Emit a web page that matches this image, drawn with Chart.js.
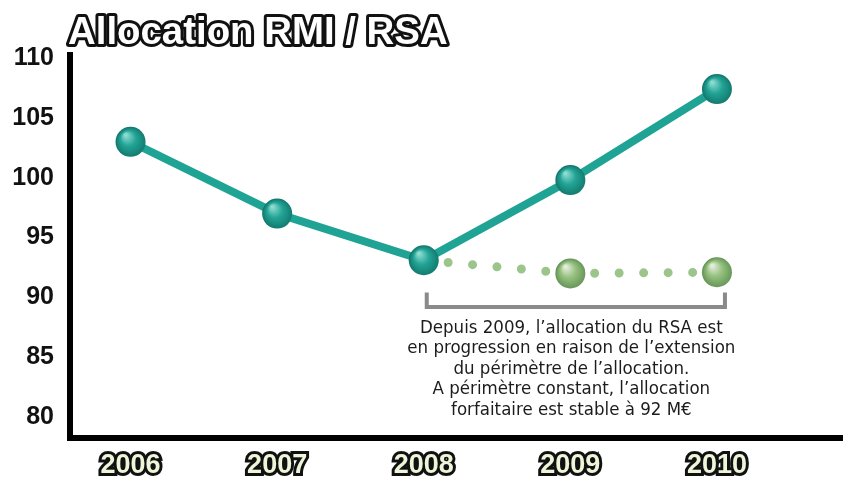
<!DOCTYPE html>
<html>
<head>
<meta charset="utf-8">
<script src="https://cdn.jsdelivr.net/npm/chart.js@4"></script>
<style>
html,body{margin:0;padding:0;background:#fff;}
#wrap{width:857px;height:490px;position:relative;}
</style>
</head>
<body>
<div id="wrap"><canvas id="myChart"></canvas></div>
<script>
// data
var titleText = "Allocation RMI / RSA";
var years = [2006, 2007, 2008, 2009, 2010];
var rsaValues = [103.0, 97.0, 93.1, 99.8, 107.4];
var constantValues = [null, null, 93.1, 92.0, 92.1];
var yTicks = [80, 85, 90, 95, 100, 105, 110];
var noteLines = [
  "Depuis 2009, l\u2019allocation du RSA est",
  "en progression en raison de l\u2019extension",
  "du p\u00e9rim\u00e8tre de l\u2019allocation.",
  "A p\u00e9rim\u00e8tre constant, l\u2019allocation",
  "forfaitaire est stable \u00e0 92 M\u20ac"
];

var heavy = '"Liberation Sans", Arial, sans-serif';
var narrow = '"DejaVu Sans Condensed", "Liberation Sans", sans-serif';

function points(vals) {
  var out = [];
  vals.forEach(function(v, i){ if (v !== null) out.push({x: years[i], y: v}); });
  return out;
}

// shaded "ball" markers
function ball(c, light, mid, dark) {
  var chart = c.chart, p = c.raw;
  if (!p || !chart.scales.x || !chart.scales.y) return mid;
  var x = chart.scales.x.getPixelForValue(p.x), y = chart.scales.y.getPixelForValue(p.y);
  if (!isFinite(x) || !isFinite(y)) return mid;
  var g = chart.ctx.createRadialGradient(x - 5, y - 7, 1, x + 1, y + 1, 16);
  g.addColorStop(0, light);
  g.addColorStop(0.45, mid);
  g.addColorStop(1, dark);
  return g;
}

// title, bracket and note
var notes = {
  id: 'notes',
  afterDraw: function(chart) {
    var ctx = chart.ctx, xs = chart.scales.x, ys = chart.scales.y;
    var x0 = xs.getPixelForValue(2008) + 3, x1 = xs.getPixelForValue(2010) + 8;
    var yTop = ys.getPixelForValue(90.4), yBot = ys.getPixelForValue(89.2);
    ctx.save();
    ctx.strokeStyle = '#8a8a8a';
    ctx.lineWidth = 4;
    ctx.beginPath();
    ctx.moveTo(x0, yTop); ctx.lineTo(x0, yBot); ctx.lineTo(x1, yBot); ctx.lineTo(x1, yTop);
    ctx.stroke();

    ctx.fillStyle = '#1c1c1c';
    ctx.textAlign = 'center';
    ctx.textBaseline = 'middle';
    ctx.font = '18.5px ' + narrow;
    var cx = xs.getPixelForValue(2009) + 1;
    noteLines.forEach(function(t, i){ ctx.fillText(t, cx, yBot + 21 + i * 20.5); });

    // fit the title to the width it takes in the original
    var size = 36;
    ctx.font = 'bold ' + size + 'px ' + heavy;
    size = size * 380 / ctx.measureText(titleText).width;
    ctx.font = 'bold ' + size.toFixed(1) + 'px ' + heavy;
    ctx.textAlign = 'left';
    ctx.textBaseline = 'alphabetic';
    ctx.lineJoin = 'round';
    ctx.lineWidth = 6;
    ctx.strokeStyle = '#111';
    ctx.strokeText(titleText, 68, 44);
    ctx.fillStyle = '#fff';
    ctx.fillText(titleText, 68, 44);
    ctx.restore();
  }
};

new Chart("myChart", {
  type: "line",
  data: {
    datasets: [{
      data: points(rsaValues),
      borderColor: "#1fa394",
      borderWidth: 8,
      tension: 0,
      pointRadius: 15,
      pointHoverRadius: 15,
      pointBorderWidth: 0,
      pointBackgroundColor: function(c){ return ball(c, "#8fdcd2", "#22a496", "#107368"); }
    }, {
      data: points(constantValues),
      borderColor: "#9cc58c",
      borderWidth: 9,
      borderDash: [0, 24.5],
      borderCapStyle: "round",
      tension: 0,
      pointRadius: function(c){ return c.dataIndex === 0 ? 0 : 15; },
      pointBorderWidth: 0,
      pointBackgroundColor: function(c){ return ball(c, "#e6eede", "#95c07f", "#5f8f52"); }
    }]
  },
  options: {
    responsive: true,
    maintainAspectRatio: false,
    animation: false,
    layout: {padding: {top: 55, right: 9, left: 0, bottom: 0}},
    plugins: {
      legend: {display: false},
      tooltip: {enabled: false},
      title: {display: false}
    },
    scales: {
      x: {
        type: "linear",
        min: 2005.587,
        max: 2010.853,
        grid: {display: false, drawTicks: false},
        border: {color: "#000", width: 6},
        afterBuildTicks: function(s){ s.ticks = years.map(function(v){ return {value: v}; }); },
        afterFit: function(s){ s.height = 52; },
        ticks: {
          autoSkip: false,
          maxRotation: 0,
          padding: 11,
          color: "#eef6da",
          textStrokeColor: "#111",
          textStrokeWidth: 6,
          font: {family: heavy, size: 27, weight: "bold"},
          callback: function(v){ return String(v); }
        }
      },
      y: {
        min: 78.25,
        max: 110.25,
        grid: {display: false, drawTicks: false},
        border: {color: "#000", width: 6},
        afterBuildTicks: function(s){ s.ticks = yTicks.map(function(v){ return {value: v}; }); },
        afterFit: function(s){ s.width = 70; },
        ticks: {
          padding: 16,
          color: "#111",
          font: {family: heavy, size: 25, weight: "bold"}
        }
      }
    }
  },
  plugins: [notes]
});
</script>
</body>
</html>
